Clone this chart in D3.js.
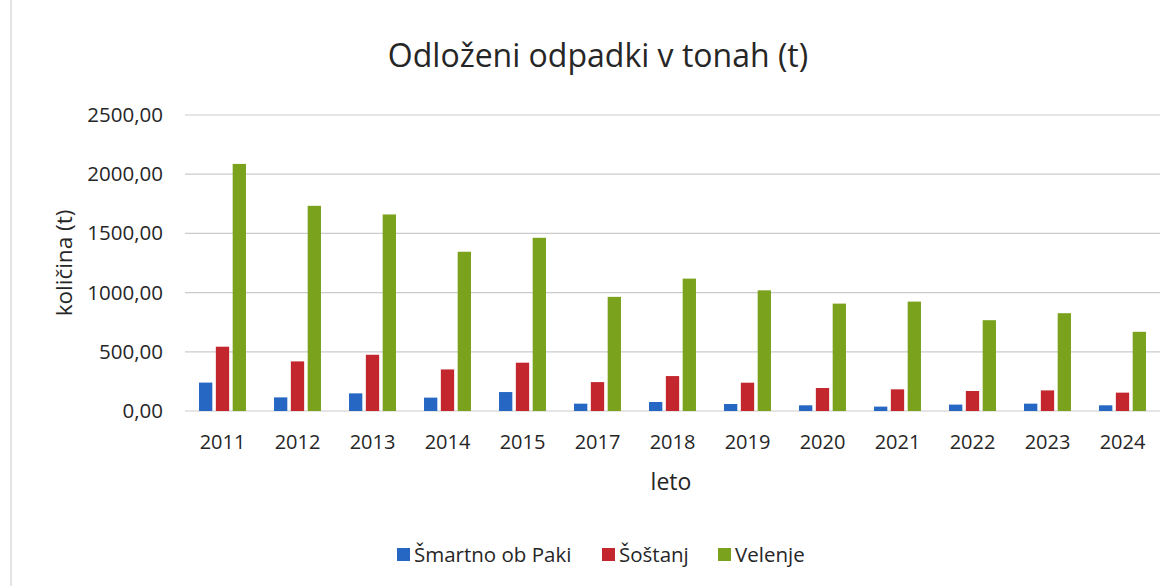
<!DOCTYPE html>
<html>
<head>
<meta charset="utf-8">
<script src="https://cdn.jsdelivr.net/npm/d3@7"></script>
<style>
  body { margin: 0; background: #fff; }
  text { font-family: 'Open Sans', sans-serif; fill: #262626; }
</style>
</head>
<body>
<svg id="chart" width="1176" height="586"></svg>
<script>
const years = ['2011', '2012', '2013', '2014', '2015', '2017', '2018', '2019', '2020', '2021', '2022', '2023', '2024'];
const seriesNames = ['Šmartno ob Paki', 'Šoštanj', 'Velenje'];
const smartno = [240, 115, 149, 113, 160, 62, 76, 59, 48, 37, 54, 62, 48];
const sostanj = [543, 419, 475, 351, 408, 244, 295, 239, 194, 183, 169, 174, 155];
const velenje = [2087, 1733, 1660, 1345, 1463, 964, 1118, 1019, 907, 924, 767, 826, 669];
const yTicks = [0, 500, 1000, 1500, 2000, 2500];
const colors = ['#2567c2', '#c3262c', '#7aa21d'];

const series = [smartno, sostanj, velenje];

const svg = d3.select('#chart');
const margin = {left: 185, right: 16, top: 115, bottom: 175};
const width = 1176 - margin.left - margin.right;
const height = 586 - margin.top - margin.bottom;

// faint scan border on the left
svg.append('line')
    .attr('x1', 11).attr('x2', 11).attr('y1', 0).attr('y2', 586)
    .style('stroke', '#e4e4e4').style('stroke-width', 2);

const g = svg.append('g')
    .attr('transform', 'translate(' + margin.left + ',' + margin.top + ')');

const x = d3.scaleBand().domain(years).range([0, width]).padding(0);
const x1 = d3.scaleBand().domain(d3.range(series.length))
    .range([x.bandwidth() * 0.187, x.bandwidth() * 0.813]).paddingInner(0.21);
const y = d3.scaleLinear().domain([0, 2500]).range([height, 0]);

//gridlines
g.selectAll('.grid').data(yTicks).enter().append('line')
    .attr('x1', 0).attr('x2', width)
    .attr('y1', d => y(d)).attr('y2', d => y(d))
    .style('stroke', '#cbcbcb').style('stroke-width', 1.2);

//y tick labels
const fmt = d => d3.format('.2f')(d).replace('.', ',');
const yAxis = g.append('g').call(d3.axisLeft(y).tickValues(yTicks).tickFormat(fmt).tickSize(0).tickPadding(22));
yAxis.select('.domain').remove();
yAxis.selectAll('text').style('font-size', '20.5px').attr('font-family', null).attr('fill', '#262626');

//x tick labels
const xAxis = g.append('g').attr('transform', 'translate(0,' + height + ')')
    .call(d3.axisBottom(x).tickSize(0).tickPadding(24));
xAxis.select('.domain').remove();
xAxis.selectAll('text').style('font-size', '20px').attr('font-family', null).attr('fill', '#262626');

//bars
const groups = g.selectAll('.year').data(years).enter().append('g')
    .attr('transform', d => 'translate(' + x(d) + ',0)');
groups.selectAll('rect')
    .data((d, i) => series.map((s, k) => ({k: k, v: s[i]})))
    .enter().append('rect')
    .attr('x', d => x1(d.k))
    .attr('width', x1.bandwidth())
    .attr('y', d => y(d.v))
    .attr('height', d => height - y(d.v))
    .style('fill', d => colors[d.k]);

//title
svg.append('text')
    .attr('x', 598).attr('y', 67)
    .attr('text-anchor', 'middle')
    .style('font-size', '32px')
    .text('Odloženi odpadki v tonah (t)');

//axis titles
svg.append('text')
    .attr('transform', 'translate(72,263) rotate(-90)')
    .attr('text-anchor', 'middle')
    .style('font-size', '22.5px')
    .text('količina (t)');

svg.append('text')
    .attr('x', 671).attr('y', 490)
    .attr('text-anchor', 'middle')
    .style('font-size', '23px')
    .text('leto');

//legend
const legendX = [397, 602, 718];
const legend = svg.selectAll('.legend').data(seriesNames).enter().append('g')
    .attr('transform', (d, i) => 'translate(' + legendX[i] + ',548)');
legend.append('rect')
    .attr('width', 13).attr('height', 13)
    .style('fill', (d, i) => colors[i]);
legend.append('text')
    .attr('x', 17).attr('y', 14)
    .style('font-size', '20.5px')
    .text(d => d);
</script>
</body>
</html>
